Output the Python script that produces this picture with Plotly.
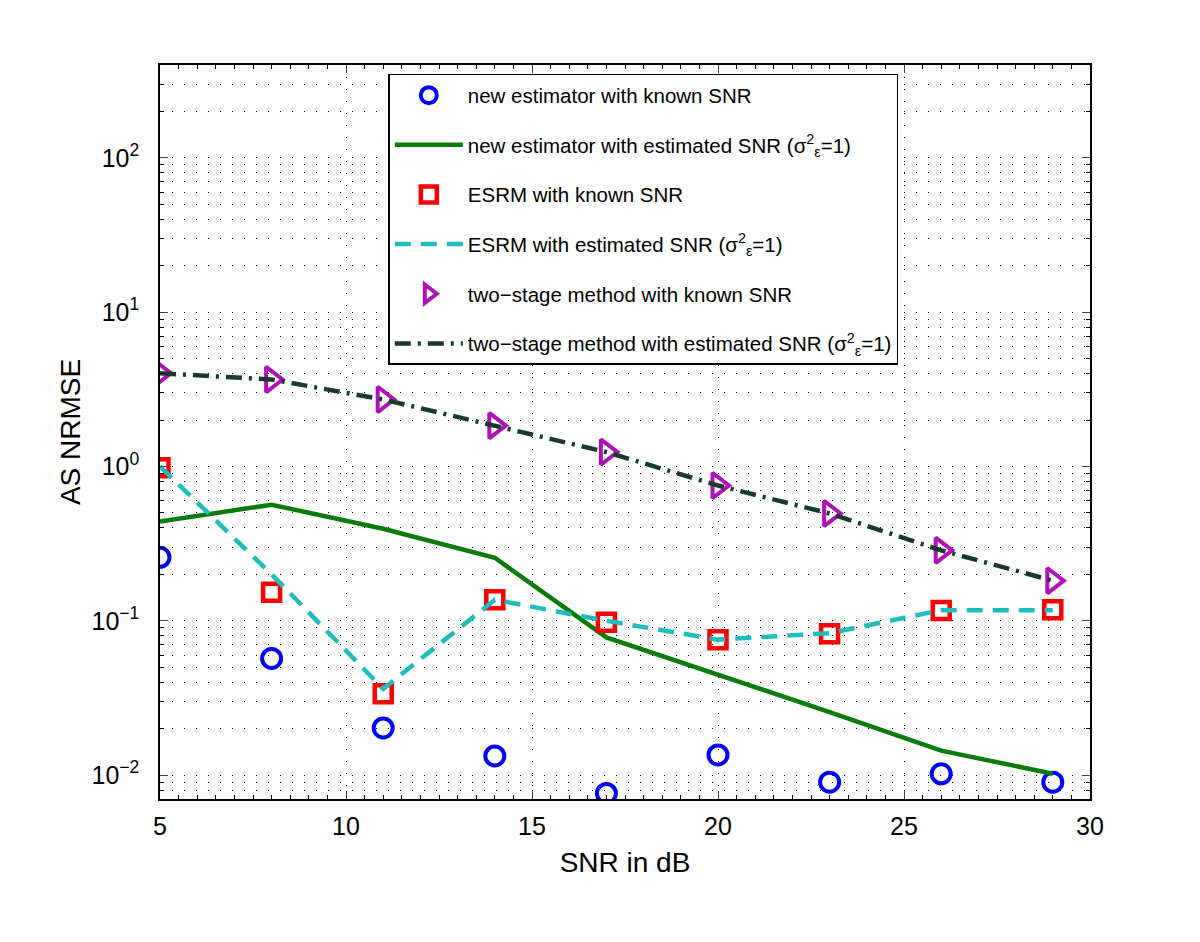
import plotly.graph_objects as go

snr = [5, 8, 11, 14, 17, 20, 23, 26, 29]
new_known = [0.258, 0.057, 0.0202, 0.0133, 0.0076, 0.0135, 0.009, 0.0102, 0.009]
new_est = [0.44, 0.565, 0.395, 0.256, 0.078, 0.0448, 0.0256, 0.0144, 0.0102]
esrm_known = [0.98, 0.153, 0.0336, 0.137, 0.098, 0.0753, 0.0824, 0.1166, 0.118]
esrm_est = [1.0, 0.2, 0.0362, 0.137, 0.1, 0.0755, 0.0832, 0.117, 0.117]
two_known = [4.02, 3.66, 2.72, 1.84, 1.24, 0.753, 0.496, 0.286, 0.182]
two_est = [4.02, 3.66, 2.72, 1.84, 1.24, 0.753, 0.496, 0.286, 0.182]

names = [
    "new estimator with known SNR",
    "new estimator with estimated SNR (σ<sup>2</sup><sub>ε</sub>=1)",
    "ESRM with known SNR",
    "ESRM with estimated SNR (σ<sup>2</sup><sub>ε</sub>=1)",
    "two−stage method with known SNR",
    "two−stage method with estimated SNR (σ<sup>2</sup><sub>ε</sub>=1)",
]
ytickvals = [0.01, 0.1, 1, 10, 100]
yticktext = ["10<sup>−2</sup>", "10<sup>−1</sup>", "10<sup>0</sup>", "10<sup>1</sup>", "10<sup>2</sup>"]
xtickvals = [5, 10, 15, 20, 25, 30]

FONT = "Liberation Sans, Arial, Helvetica, sans-serif"

fig = go.Figure()
fig.add_trace(go.Scatter(x=snr, y=new_known, mode="markers", name=names[0], legendgroup="a",
                         marker=dict(symbol="circle-open", size=19, color="#0000ff", line=dict(width=4, color="#0000ff"))))
fig.add_trace(go.Scatter(x=snr, y=new_est, mode="lines", name=names[1], legendgroup="b",
                         line=dict(color="#0a7a0a", width=4.5)))
fig.add_trace(go.Scatter(x=snr, y=esrm_known, mode="markers", name=names[2], legendgroup="c",
                         marker=dict(symbol="square-open", size=17, color="#ff0000", line=dict(width=4.5, color="#ff0000"))))
fig.add_trace(go.Scatter(x=snr, y=esrm_est, mode="lines", name=names[3], legendgroup="d",
                         line=dict(color="#1fbcbc", width=4.5, dash="16px,10px")))
fig.add_trace(go.Scatter(x=snr, y=two_known, mode="markers", name=names[4], legendgroup="e",
                         marker=dict(symbol="triangle-right-open", size=22, color="#b010b8", line=dict(width=4, color="#b010b8"))))
fig.add_trace(go.Scatter(x=snr, y=two_est, mode="lines", name=names[5], legendgroup="f",
                         line=dict(color="#173a2c", width=4.5, dash="16px,7px,3px,7px")))

grid_dash = "1px,11px"
fig.update_layout(
    width=1200, height=942,
    margin=dict(l=152, r=118, t=57, b=151),
    paper_bgcolor="white", plot_bgcolor="white",
    font=dict(family=FONT, size=24, color="black"),
    showlegend=True,
    legend=dict(
        x=0.2455, y=0.988, xanchor="left", yanchor="top",
        bgcolor="white", bordercolor="black", borderwidth=1.5,
        font=dict(family=FONT, size=20.5, color="black"),
        tracegroupgap=20, itemwidth=68,
    ),
    xaxis=dict(
        range=[5, 30], tickvals=xtickvals, ticks="inside", ticklen=8, tickwidth=1.2,
        showline=True, linecolor="black", linewidth=1.5, mirror="ticks",
        showgrid=True, gridcolor="black", gridwidth=1, griddash=grid_dash,
        zeroline=False,
        minor=dict(dtick=0.5, ticks="inside", ticklen=4, tickcolor="black", showgrid=False),
        title=dict(text="SNR in dB", font=dict(size=28), standoff=14),
        tickfont=dict(size=25),
        ticklabelstandoff=4,
    ),
    yaxis=dict(
        type="log", range=[-2.155, 2.602], tickvals=ytickvals, ticktext=yticktext,
        ticks="inside", ticklen=8, tickwidth=1.2,
        showline=True, linecolor="black", linewidth=1.5, mirror="ticks",
        showgrid=True, gridcolor="black", gridwidth=1, griddash=grid_dash,
        zeroline=False,
        minor=dict(dtick="D1", ticks="inside", ticklen=4, tickcolor="black",
                   showgrid=True, gridcolor="black", gridwidth=1, griddash=grid_dash),
        title=dict(text="AS NRMSE", font=dict(size=28), standoff=3),
        tickfont=dict(size=25),
        ticklabelstandoff=14,
    ),
)

fig.write_html("out.html")
